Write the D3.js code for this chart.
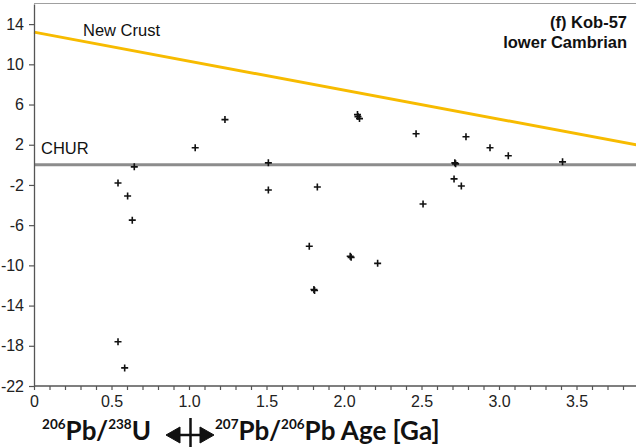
<!DOCTYPE html>
<html>
<head>
<meta charset="utf-8">
<script src="https://cdn.jsdelivr.net/npm/d3@7"></script>
<style>
  body { margin: 0; background: #fff; }
  svg { display: block; font-family: "Liberation Sans", Arial, sans-serif; }
</style>
</head>
<body>
<div id="chart"></div>
<script>
// zircon ages (Ga) and eHf values
const ageGa = [0.542, 0.604, 0.634, 0.647, 0.542, 0.585,
  1.04, 1.232, 1.512, 1.512, 1.828, 1.776, 1.806, 1.81, 2.04, 2.046, 2.217,
  2.087, 2.09, 2.10, 2.465, 2.51, 2.715, 2.72, 2.71, 2.757, 2.787, 2.942, 3.06, 3.41];
const epsHf = [-1.8, -3.1, -5.5, -0.2, -17.6, -20.2,
  1.7, 4.5, 0.2, -2.5, -2.2, -8.1, -12.4, -12.5, -9.1, -9.2, -9.8,
  5.0, 4.8, 4.6, 3.1, -3.9, 0.2, 0.1, -1.4, -2.1, 2.8, 1.7, 0.9, 0.3];

// reference lines
const newCrustAge = [0, 3.9];
const newCrustEps = [13.2, 1.95];
const churEps = 0;

const yTicks = [-22, -18, -14, -10, -6, -2, 2, 6, 10, 14];
const xTicks = d3.range(0, 39).map(i => i / 10);

const W = 636, H = 447;
const svg = d3.select("#chart").append("svg")
  .attr("width", W)
  .attr("height", H);

const x = d3.scaleLinear().domain([0, 3.9]).range([34, 34 + 3.9 * 155]);
const y = d3.scaleLinear().domain([-22, 16]).range([386, 4]);

// top border
svg.append("line")
  .attr("x1", 34).attr("x2", W)
  .attr("y1", 3.5).attr("y2", 3.5)
  .attr("stroke", "#a0a0a0").attr("stroke-width", 1.2);

// CHUR
svg.append("line")
  .attr("x1", x(0)).attr("x2", W)
  .attr("y1", y(churEps)).attr("y2", y(churEps))
  .attr("stroke", "#8c8c8c").attr("stroke-width", 3);

// new crust
svg.append("path")
  .datum(newCrustAge.map((a, i) => [a, newCrustEps[i]]))
  .attr("d", d3.line().x(d => x(d[0])).y(d => y(d[1])))
  .attr("fill", "none")
  .attr("stroke", "#f7bb00")
  .attr("stroke-width", 3);

// axes
const yAxis = svg.append("g")
  .attr("transform", `translate(${x(0)},0)`)
  .call(d3.axisLeft(y).tickValues(yTicks).tickSize(5).tickSizeOuter(0).tickPadding(5)
    .tickFormat(d => String(d)));

const xAxis = svg.append("g")
  .attr("transform", `translate(0,${y(-22)})`)
  .call(d3.axisBottom(x).tickValues(xTicks).tickSize(4).tickSizeOuter(0).tickPadding(6)
    .tickFormat((d, i) => i % 5 === 0 ? (i === 0 ? "0" : d3.format(".1f")(d)) : ""));

xAxis.select(".domain").attr("d", `M${x(0)},0H${W}`);

[yAxis, xAxis].forEach(g => {
  g.select(".domain").attr("stroke", "#555").attr("stroke-width", 1.3);
  g.selectAll(".tick line").attr("stroke", "#555").attr("stroke-width", 1.2);
  g.selectAll(".tick text")
    .attr("fill", "#222")
    .style("font-size", "16px")
    .style("font-family", "'Liberation Sans', Arial, sans-serif");
});

// data points as plus markers
svg.append("g")
  .selectAll("path")
  .data(ageGa.map((a, i) => [a, epsHf[i]]))
  .join("path")
  .attr("transform", d => `translate(${x(d[0])},${y(d[1])})`)
  .attr("d", "M-3.5,0H3.5M0,-3.5V3.5")
  .attr("stroke", "#111")
  .attr("stroke-width", 1.6)
  .attr("fill", "none");

// labels
svg.append("text")
  .attr("x", 83).attr("y", 36)
  .style("font-size", "16.5px")
  .attr("fill", "#111")
  .text("New Crust");

svg.append("text")
  .attr("x", 41).attr("y", 154)
  .style("font-size", "16.5px")
  .attr("fill", "#111")
  .text("CHUR");

svg.append("text")
  .attr("x", 627).attr("y", 28)
  .attr("text-anchor", "end")
  .style("font-size", "16.5px")
  .style("font-weight", "bold")
  .attr("fill", "#111")
  .text("(f) Kob-57");

svg.append("text")
  .attr("x", 627).attr("y", 48)
  .attr("text-anchor", "end")
  .style("font-size", "16.5px")
  .style("font-weight", "bold")
  .attr("fill", "#111")
  .text("lower Cambrian");

// x axis title
const titleFont = "Lato, 'Open Sans', sans-serif";
const mainSize = "26px", supSize = "13.5px";
const leftTitle = svg.append("text")
  .attr("x", 151).attr("y", 440)
  .attr("text-anchor", "end")
  .style("font-family", titleFont)
  .style("font-weight", "bold")
  .style("font-size", mainSize)
  .attr("fill", "#111");
leftTitle.append("tspan").style("font-size", supSize).attr("dy", -11).text("206");
leftTitle.append("tspan").attr("dy", 11).text("Pb/");
leftTitle.append("tspan").style("font-size", supSize).attr("dy", -11).text("238");
leftTitle.append("tspan").attr("dy", 11).text("U");

const rightTitle = svg.append("text")
  .attr("x", 215).attr("y", 440)
  .style("font-family", titleFont)
  .style("font-weight", "bold")
  .style("font-size", mainSize)
  .attr("fill", "#111");
rightTitle.append("tspan").style("font-size", supSize).attr("dy", -11).text("207");
rightTitle.append("tspan").attr("dy", 11).text("Pb/");
rightTitle.append("tspan").style("font-size", supSize).attr("dy", -11).text("206");
rightTitle.append("tspan").attr("dy", 11).text("Pb Age [Ga]");

// double arrow with divider
const arrow = svg.append("g").attr("fill", "#111").attr("stroke", "#111");
arrow.append("path").attr("d", "M166,435L180,427L180,443Z");
arrow.append("path").attr("d", "M214,435L200,427L200,443Z");
arrow.append("line").attr("x1", 178).attr("x2", 202).attr("y1", 435).attr("y2", 435).attr("stroke-width", 2.5);
arrow.append("line").attr("x1", 190.5).attr("x2", 190.5).attr("y1", 418).attr("y2", 447).attr("stroke-width", 2.5);
</script>
</body>
</html>
